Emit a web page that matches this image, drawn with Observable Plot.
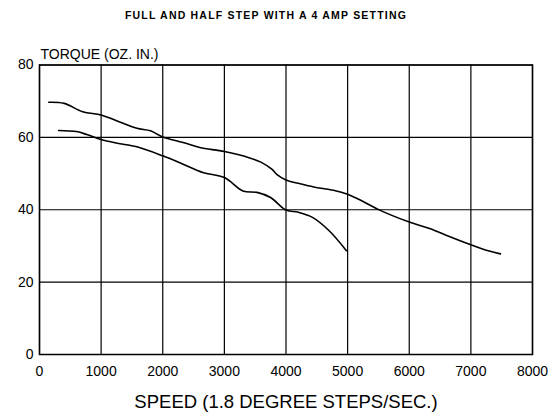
<!DOCTYPE html>
<html>
<head>
<meta charset="utf-8">
<script src="https://cdn.jsdelivr.net/npm/d3@7"></script>
<script src="https://cdn.jsdelivr.net/npm/@observablehq/plot@0.6"></script>
<style>
  html, body { margin: 0; padding: 0; background: #fff; }
  svg { display: block; }
</style>
</head>
<body>
<div id="chart"></div>
<script>
const titleText = "FULL AND HALF STEP WITH A 4 AMP SETTING";
const yLabel = "TORQUE (OZ. IN.)";
const xLabel = "SPEED (1.8 DEGREE STEPS/SEC.)";

const xTicks = [0, 1000, 2000, 3000, 4000, 5000, 6000, 7000, 8000];
const yTicks = [0, 20, 40, 60, 80];

// Upper curve (extends to 7500 steps/sec)
const upperSpeed  = [150, 400, 700, 1000, 1250, 1580, 1800, 2000, 2330, 2600, 3000, 3400, 3600, 3770, 3850, 4000, 4200, 4450, 4770, 5000, 5250, 5520, 6000, 6330, 6650, 7000, 7200, 7480];
const upperTorque = [69.7, 69.4, 67.1, 66.2, 64.6, 62.5, 61.8, 60.1, 58.6, 57.2, 56.1, 54.4, 53.1, 51.2, 49.8, 48.2, 47.3, 46.3, 45.4, 44.3, 42.3, 39.9, 36.6, 34.8, 32.6, 30.3, 29.1, 27.8];

// Lower curve (ends at 5000 steps/sec)
const lowerSpeed  = [310, 600, 780, 1000, 1260, 1580, 2000, 2330, 2650, 3000, 3300, 3530, 3750, 4000, 4200, 4430, 4700, 4980];
const lowerTorque = [61.9, 61.6, 60.7, 59.4, 58.4, 57.4, 54.9, 52.6, 50.3, 48.9, 45.2, 44.8, 43.4, 39.9, 39.3, 37.9, 34.2, 28.7];

const upper = upperSpeed.map((x, i) => ({x, y: upperTorque[i]}));
const lower = lowerSpeed.map((x, i) => ({x, y: lowerTorque[i]}));

const font = "Liberation Sans, Arial, sans-serif";

const chart = Plot.plot({
  width: 554,
  height: 414,
  marginLeft: 39,
  marginRight: 22,
  marginTop: 64.5,
  marginBottom: 60,
  style: { fontFamily: font, background: "#fff", color: "#000" },
  x: { domain: [0, 8000], ticks: xTicks, label: null },
  y: { domain: [0, 80], ticks: yTicks, label: null },
  marks: [
    Plot.gridX(xTicks, { stroke: "#000", strokeOpacity: 1, strokeWidth: 1.2 }),
    Plot.gridY(yTicks, { stroke: "#000", strokeOpacity: 1, strokeWidth: 1.2 }),
    Plot.frame({ stroke: "#000", strokeWidth: 1.5 }),
    Plot.axisX(xTicks, { tickSize: 0, tickPadding: 12, fontSize: 14, tickFormat: d => String(d), fontFamily: font }),
    Plot.axisY(yTicks, { tickSize: 0, tickPadding: 6, fontSize: 14, tickFormat: d => String(d), fontFamily: font }),
    Plot.line(upper, { x: "x", y: "y", curve: "catmull-rom", stroke: "#000", strokeWidth: 1.6 }),
    Plot.line(lower, { x: "x", y: "y", curve: "catmull-rom", stroke: "#000", strokeWidth: 1.6 }),
    Plot.text([titleText], { frameAnchor: "top", dx: -20, dy: -46, lineAnchor: "bottom", fontSize: 10.5, fontWeight: "bold", fill: "#000" }),
    Plot.text([yLabel], { frameAnchor: "top-left", textAnchor: "start", dx: 1, dy: -6.5, lineAnchor: "bottom", fontSize: 14, fill: "#000" }),
    Plot.text([xLabel], { frameAnchor: "bottom", dy: 53, lineAnchor: "bottom", fontSize: 18.5, fill: "#000" })
  ]
});

d3.select(chart).selectAll("text")
  .filter(function () { return this.textContent === titleText; })
  .attr("letter-spacing", "1.2px");

document.getElementById("chart").appendChild(chart);
</script>
</body>
</html>
